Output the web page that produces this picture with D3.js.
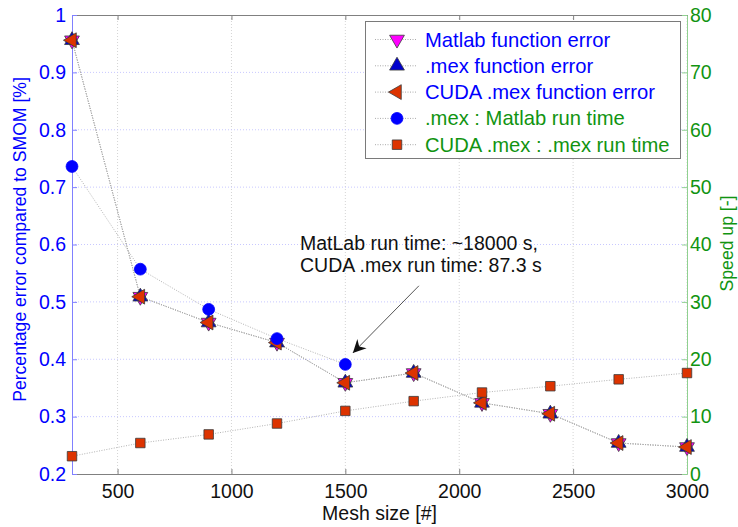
<!DOCTYPE html>
<html>
<head>
<meta charset="utf-8">
<script src="https://cdn.jsdelivr.net/npm/d3@7"></script>
<style>
  body { margin: 0; background: #fff; }
  svg { font-family: "Liberation Sans", Arial, Helvetica, sans-serif; }
</style>
</head>
<body>
<div id="chart"></div>
<script>
// data
const meshSize = [300, 600, 900, 1200, 1500, 1800, 2100, 2400, 2700, 3000];
const matlabErr = [0.956, 0.509, 0.464, 0.429, 0.359, 0.376, 0.324, 0.305, 0.254, 0.247];
const mexErr    = [0.956, 0.509, 0.464, 0.429, 0.359, 0.376, 0.324, 0.305, 0.254, 0.247];
const cudaErr   = [0.956, 0.509, 0.464, 0.429, 0.359, 0.376, 0.324, 0.305, 0.254, 0.247];
const mexSpeed  = [53.6, 35.7, 28.7, 23.6, 19.1];            // only first 5 mesh sizes
const cudaSpeed = [3.1, 5.4, 6.9, 8.8, 11.0, 12.7, 14.2, 15.3, 16.5, 17.6];

const xTicks = [500, 1000, 1500, 2000, 2500, 3000];
const leftTicks = [0.2, 0.3, 0.4, 0.5, 0.6, 0.7, 0.8, 0.9, 1];
const leftTickLabels = ['0.2', '0.3', '0.4', '0.5', '0.6', '0.7', '0.8', '0.9', '1'];
const rightTicks = [0, 10, 20, 30, 40, 50, 60, 70, 80];

const legendLabels = ['Matlab function error', '.mex function error', 'CUDA .mex function error',
  '.mex : Matlab run time', 'CUDA .mex : .mex run time'];
const annotationLines = ['MatLab run time: ~18000 s,', 'CUDA .mex run time: 87.3 s'];
// annotation arrow in data units (mesh size, speed up)
const arrowFrom = [1823, 32.8];
const arrowTo = [1533, 21.1];
const annotationAt = [1301, 40.3];

const W = 738, H = 527;
const margin = { top: 15, right: 51, bottom: 53, left: 72 };
const innerW = W - margin.left - margin.right;
const innerH = H - margin.top - margin.bottom;

const BLUE = '#0000ff', GREEN = '#119411', RED = '#dd3300', MAG = '#ff00ff';
const FS = 19.5;

const svg = d3.select('#chart').append('svg')
  .attr('width', W).attr('height', H);

const x = d3.scaleLinear().domain([300, 3000]).range([margin.left, margin.left + innerW]);
const yL = d3.scaleLinear().domain([0.2, 1]).range([margin.top + innerH, margin.top]);
const yR = d3.scaleLinear().domain([0, 80]).range([margin.top + innerH, margin.top]);

// grid
const grid = svg.append('g');
grid.selectAll('.vg').data(xTicks).enter().append('line')
  .attr('x1', d => x(d)).attr('x2', d => x(d))
  .attr('y1', margin.top).attr('y2', margin.top + innerH)
  .attr('stroke', '#d4d4d4').attr('stroke-dasharray', '1,2');
grid.selectAll('.hg').data(leftTicks.slice(1, -1)).enter().append('line')
  .attr('x1', margin.left).attr('x2', margin.left + innerW)
  .attr('y1', d => yL(d)).attr('y2', d => yL(d))
  .attr('stroke', '#c8c8ff').attr('stroke-dasharray', '1,2');

// axes
const xBottom = svg.append('g')
  .attr('transform', `translate(0,${margin.top + innerH})`)
  .call(d3.axisBottom(x).tickValues(xTicks).tickSize(-5).tickSizeOuter(0).tickPadding(10)
    .tickFormat(d3.format('d')));
xBottom.select('.domain').attr('stroke', '#808080');
xBottom.selectAll('line').attr('stroke', '#808080');
xBottom.selectAll('text').attr('font-size', FS).attr('fill', '#111');

const xTop = svg.append('g')
  .attr('transform', `translate(0,${margin.top})`)
  .call(d3.axisTop(x).tickValues(xTicks).tickSize(-5).tickSizeOuter(0).tickFormat(''));
xTop.select('.domain').attr('stroke', '#808080');
xTop.selectAll('line').attr('stroke', '#808080');

const yLeft = svg.append('g')
  .attr('transform', `translate(${margin.left},0)`)
  .call(d3.axisLeft(yL).tickValues(leftTicks).tickSize(-5).tickSizeOuter(0).tickPadding(6)
    .tickFormat((d, i) => leftTickLabels[i]));
yLeft.select('.domain').attr('stroke', '#8080ff');
yLeft.selectAll('line').attr('stroke', '#8080ff');
yLeft.selectAll('text').attr('font-size', FS).attr('fill', BLUE);

const yRight = svg.append('g')
  .attr('transform', `translate(${margin.left + innerW},0)`)
  .call(d3.axisRight(yR).tickValues(rightTicks).tickSize(-5).tickSizeOuter(0).tickPadding(3));
yRight.select('.domain').attr('stroke', '#90d090');
yRight.selectAll('line').attr('stroke', '#90d090');
yRight.selectAll('text').attr('font-size', FS).attr('fill', GREEN);

// axis titles
svg.append('text')
  .attr('x', margin.left + innerW / 2).attr('y', 520)
  .attr('text-anchor', 'middle').attr('font-size', FS).attr('fill', '#111')
  .text('Mesh size [#]');
svg.append('text')
  .attr('transform', `translate(26,${margin.top + innerH / 2 - 5}) rotate(-90)`)
  .attr('text-anchor', 'middle').attr('font-size', 17.6).attr('fill', BLUE)
  .text('Percentage error compared to SMOM [%]');
svg.append('text')
  .attr('transform', `translate(733,${margin.top + innerH / 2 - 1}) rotate(-90)`)
  .attr('text-anchor', 'middle').attr('font-size', 17.6).attr('fill', GREEN)
  .text('Speed up [-]');

// series
const series = [
  { name: legendLabels[0], xs: meshSize, ys: matlabErr, y: yL, shape: d3.symbolTriangle, rot: 180, size: 95, fill: MAG },
  { name: legendLabels[1], xs: meshSize, ys: mexErr, y: yL, shape: d3.symbolTriangle, rot: 0, size: 95, fill: '#0000cc' },
  { name: legendLabels[2], xs: meshSize, ys: cudaErr, y: yL, shape: d3.symbolTriangle, rot: -90, size: 95, fill: RED },
  { name: legendLabels[3], xs: meshSize.slice(0, mexSpeed.length), ys: mexSpeed, y: yR, shape: d3.symbolCircle, rot: 0, size: 110, fill: BLUE },
  { name: legendLabels[4], xs: meshSize, ys: cudaSpeed, y: yR, shape: d3.symbolSquare, rot: 0, size: 90, fill: RED }
];

const lineGen = (s) => d3.line().x((d, i) => x(s.xs[i])).y(d => s.y(d));

series.forEach(s => {
  svg.append('path')
    .attr('d', lineGen(s)(s.ys))
    .attr('fill', 'none').attr('stroke', '#aaa').attr('stroke-width', 0.9)
    .attr('stroke-dasharray', '1,1.5');
});

function drawMarker(g, s, cx, cy) {
  g.append('path')
    .attr('d', d3.symbol().type(s.shape).size(s.size)())
    .attr('transform', `translate(${cx},${cy}) rotate(${s.rot})`)
    .attr('fill', s.fill)
    .attr('stroke', s.shape === d3.symbolCircle ? s.fill : '#3a3a3a')
    .attr('stroke-width', 0.8);
}

series.forEach(s => {
  const g = svg.append('g');
  s.ys.forEach((v, i) => drawMarker(g, s, x(s.xs[i]), s.y(v)));
});

// annotation
const ax0 = x(arrowFrom[0]), ay0 = yR(arrowFrom[1]);
const ax1 = x(arrowTo[0]), ay1 = yR(arrowTo[1]);
svg.append('line')
  .attr('x1', ax0).attr('y1', ay0).attr('x2', ax1).attr('y2', ay1)
  .attr('stroke', '#555').attr('stroke-width', 1);
const ang = Math.atan2(ay1 - ay0, ax1 - ax0) * 180 / Math.PI;
svg.append('path')
  .attr('d', 'M0,0 L-13,-6.5 L-9,0 L-13,6.5 Z')
  .attr('transform', `translate(${ax1},${ay1}) rotate(${ang})`)
  .attr('fill', '#111');
const ann = svg.append('text')
  .attr('x', x(annotationAt[0])).attr('y', yR(annotationAt[1]))
  .attr('font-size', FS).attr('fill', '#111');
annotationLines.forEach((t, i) => {
  ann.append('tspan').attr('x', x(annotationAt[0])).attr('dy', i === 0 ? '0.35em' : 22).text(t);
});

// legend
const lg = svg.append('g');
lg.append('rect')
  .attr('x', 365.5).attr('y', 21.5).attr('width', 315).attr('height', 137)
  .attr('fill', '#fff').attr('stroke', '#7a7a7a').attr('stroke-width', 1);
series.forEach((s, i) => {
  const cy = 39.5 + i * 26.3;
  lg.append('line').attr('x1', 375).attr('x2', 416).attr('y1', cy).attr('y2', cy)
    .attr('stroke', '#aaa').attr('stroke-dasharray', '1,1.5');
  drawMarker(lg, s, 397, cy);
  lg.append('text').attr('x', 425).attr('y', cy).attr('dy', '0.35em')
    .attr('font-size', 20.2).attr('fill', i < 3 ? BLUE : GREEN)
    .text(s.name);
});
</script>
</body>
</html>
